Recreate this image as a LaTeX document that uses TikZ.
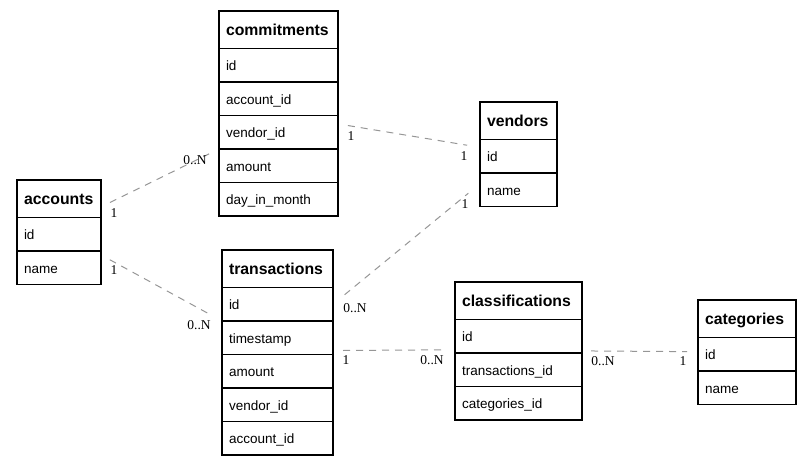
\documentclass[tikz,border=0pt]{standalone}
\usepackage{fontspec}
\setmainfont{Liberation Serif}
\setsansfont{Liberation Sans}
\usepackage{xcolor}

\begin{document}
\begin{tikzpicture}[x=1pt,y=1pt,yscale=-1,xscale=1,
  tblhead/.style={draw, line width=1.2pt, anchor=north west, outer sep=0pt, minimum height=37.5pt, inner xsep=7pt, inner ysep=0pt, text height=14pt, text depth=3pt, align=left, font=\sffamily\bfseries\fontsize{15.8}{18}\selectfont},
  tblrow/.style={draw, line width=1.2pt, anchor=north west, outer sep=0pt, minimum height=33.5pt, inner xsep=7pt, inner ysep=0pt, text height=14pt, text depth=3pt, align=left, font=\sffamily\fontsize{13.5}{16}\selectfont},
  rel/.style={color={rgb, 255:red, 150; green, 150; blue, 150 }, line width=1pt, dash pattern=on 7pt off 6pt, shorten <=10pt, shorten >=11pt},
  card/.style={inner sep=0.75pt, font=\fontsize{13.5}{16}\selectfont}]
\useasboundingbox (0,0) rectangle (809,464);

%Table: accounts
\draw (17,180) node (acch) [tblhead, text width=70pt] {accounts};
\draw (acch.south west) node (acc1) [tblrow, text width=70pt] {id};
\draw (acc1.south west) node (acc2) [tblrow, text width=70pt] {name};

%Table: commitments
\draw (219,11) node (comh) [tblhead, text width=105pt] {commitments};
\draw (comh.south west) node (com1) [tblrow, text width=105pt] {id};
\draw (com1.south west) node (com2) [tblrow, text width=105pt] {account\_id};
\draw (com2.south west) node (com3) [tblrow, text width=105pt] {vendor\_id};
\draw (com3.south west) node (com4) [tblrow, text width=105pt] {amount};
\draw (com4.south west) node (com5) [tblrow, text width=105pt] {day\_in\_month};

%Table: vendors
\draw (480,102) node (venh) [tblhead, text width=63pt] {vendors};
\draw (venh.south west) node (ven1) [tblrow, text width=63pt] {id};
\draw (ven1.south west) node (ven2) [tblrow, text width=63pt] {name};

%Table: transactions
\draw (222,250) node (trnh) [tblhead, text width=97pt] {transactions};
\draw (trnh.south west) node (trn1) [tblrow, text width=97pt] {id};
\draw (trn1.south west) node (trn2) [tblrow, text width=97pt] {timestamp};
\draw (trn2.south west) node (trn3) [tblrow, text width=97pt] {amount};
\draw (trn3.south west) node (trn4) [tblrow, text width=97pt] {vendor\_id};
\draw (trn4.south west) node (trn5) [tblrow, text width=97pt] {account\_id};

%Table: classifications
\draw (455,282) node (clsh) [tblhead, text width=113pt] {classifications};
\draw (clsh.south west) node (cls1) [tblrow, text width=113pt] {id};
\draw (cls1.south west) node (cls2) [tblrow, text width=113pt] {transactions\_id};
\draw (cls2.south west) node (cls3) [tblrow, text width=113pt] {categories\_id};

%Table: categories
\draw (698,300) node (cath) [tblhead, text width=84pt] {categories};
\draw (cath.south west) node (cat1) [tblrow, text width=84pt] {id};
\draw (cat1.south west) node (cat2) [tblrow, text width=84pt] {name};

%Relations
\draw [rel] (acch.-11) -- (com3.south west);
\draw [rel] (acc2.17) -- (trn1.south west);
\draw [rel, shorten >=13pt] (com3.8) -- (ven1.167);
\draw [rel, shorten <=15pt, shorten >=15pt] (trn1.east) -- (ven2.171);
\draw [rel] (trn2.-13) -- (cls1.192);
\draw [rel, shorten <=9pt] (cls1.-13) -- (cat1.177);

% Text Node
\draw (114,213) node (l1a) [card] {1};
% Text Node
\draw (195,160) node (l1b) [card] {0..N};
% Text Node
\draw (114,270) node (l2a) [card] {1};
% Text Node
\draw (199,325) node (l2b) [card] {0..N};
% Text Node
\draw (351,136) node (l3a) [card] {1};
% Text Node
\draw (464,156) node (l3b) [card] {1};
% Text Node
\draw (355,308) node (l4a) [card] {0..N};
% Text Node
\draw (465,204) node (l4b) [card] {1};
% Text Node
\draw (346,360) node (l5a) [card] {1};
% Text Node
\draw (432,360) node (l5b) [card] {0..N};
% Text Node
\draw (603,361) node (l6a) [card] {0..N};
% Text Node
\draw (683,361) node (l6b) [card] {1};

\end{tikzpicture}
\end{document}
